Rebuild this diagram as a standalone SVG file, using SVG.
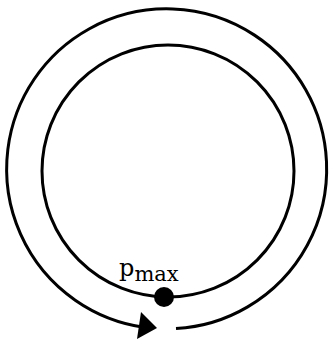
<svg xmlns="http://www.w3.org/2000/svg" width="333" height="344" viewBox="0 0 333 344">
<style>
.ring{fill:none;stroke:#000;stroke-width:3}
.lbl{font-family:"DejaVu Serif","Liberation Serif",serif;fill:#000}
</style>
<rect width="333" height="344" fill="#fff"/>
<g id="connectors">
<path id="orbit" class="ring" stroke-width="3.3" d="M176,328.6 A160,160 0 1 0 145,327.4"/>
<polygon points="141,312 137,339 157,328" fill="#000"/>
</g>
<g id="inner">
<circle class="ring" cx="168" cy="171" r="126"/>
</g>
<g id="pmax">
<circle cx="164" cy="297" r="10" fill="#000"/>
<text class="lbl" x="119" y="276" font-size="24">p<tspan font-size="21" dy="5">max</tspan></text>
</g>
</svg>
